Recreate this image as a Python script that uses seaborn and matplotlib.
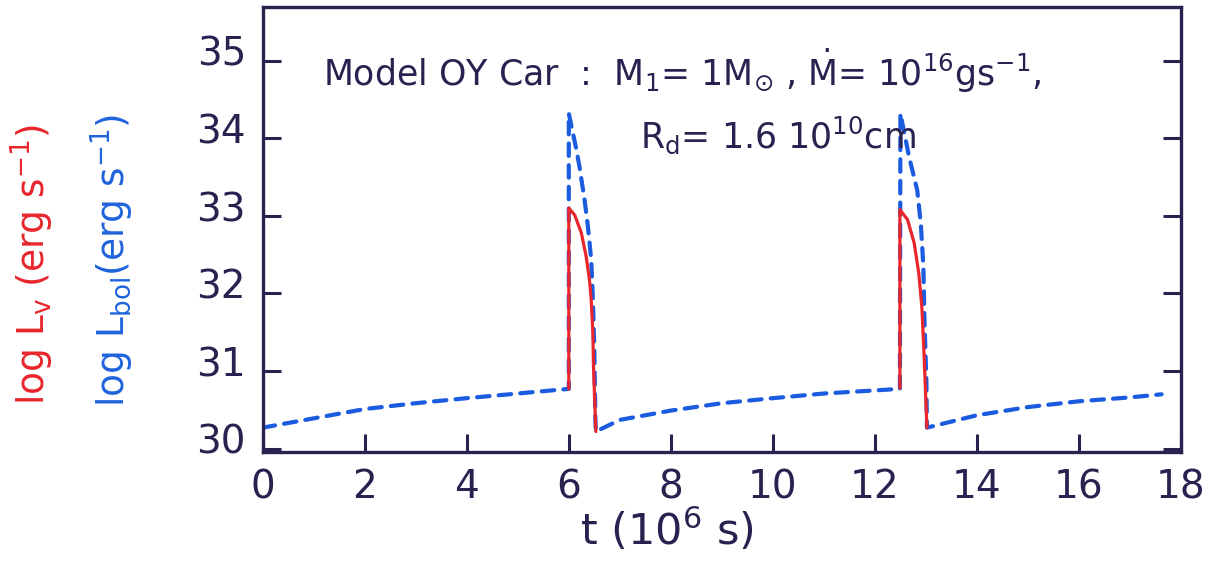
import matplotlib
matplotlib.use("Agg")
import matplotlib.pyplot as plt
import matplotlib.transforms as mtransforms
import numpy as np
import pandas as pd
import seaborn as sns

# ---------------- data ----------------
# bolometric luminosity (blue dashed), one continuous path
t_bol = [0, 1, 2, 3, 4, 5, 6,
         6.0, 6.15, 6.21, 6.31, 6.375, 6.44, 6.472, 6.50, 6.52, 6.53,
         7, 8, 9, 10, 11, 12, 12.49,
         12.50, 12.67, 12.83, 12.90, 12.95, 12.97, 13.01, 13.02,
         14, 15, 16, 17, 17.62]
logL_bol = [30.27, 30.39, 30.51, 30.585, 30.65, 30.71, 30.77,
            34.32, 33.85, 33.63, 33.20, 32.86, 32.43, 31.92, 31.27, 30.41, 30.22,
            30.37, 30.49, 30.585, 30.65, 30.71, 30.75, 30.77,
            34.32, 33.76, 33.33, 32.90, 32.35, 31.70, 30.84, 30.27,
            30.43, 30.535, 30.61, 30.66, 30.70]

# visual luminosity (red solid), outburst 1 and outburst 2
t_v1 = [6.00, 6.00, 6.116, 6.246, 6.342, 6.406, 6.439, 6.472, 6.484, 6.53]
logL_v1 = [30.77, 33.10, 33.01, 32.78, 32.47, 32.17, 31.92, 31.49, 31.06, 30.22]
t_v2 = [12.49, 12.49, 12.64, 12.77, 12.86, 12.92, 12.96, 13.02]
logL_v2 = [30.78, 33.08, 32.95, 32.65, 32.26, 31.83, 31.27, 30.27]

x_ticks = [0, 2, 4, 6, 8, 10, 12, 14, 16, 18]
y_ticks = [30, 31, 32, 33, 34, 35]

# ---------------- style ----------------
sns.set_style("white")
plt.rcParams["font.family"] = ["DejaVu Sans"]
plt.rcParams["mathtext.fontset"] = "dejavusans"

INK = "#2b2150"
RED = "#e8262c"
BLUE = "#1a5be0"
BLUE_TXT = "#1f63dc"

W, H = 1208, 567
fig = plt.figure(figsize=(W / 100, H / 100), dpi=100)
ax = fig.add_axes([262.7 / W, 1 - 451.7 / H, (1181 - 262.7) / W, (451.7 - 6.7) / H])

df_bol = pd.DataFrame({"t": t_bol, "L": logL_bol, "seg": 0})
df_v = pd.DataFrame({
    "t": t_v1 + t_v2,
    "L": logL_v1 + logL_v2,
    "seg": [1] * len(t_v1) + [2] * len(t_v2),
})

sns.lineplot(data=df_bol, x="t", y="L", units="seg", estimator=None, sort=False,
             color=BLUE, linewidth=3.0, ax=ax, legend=False)
line_b = ax.lines[-1]
line_b.set_dashes((3.0, 2.2))
line_b.set_dash_capstyle("round")
line_b.set_solid_joinstyle("round")

sns.lineplot(data=df_v, x="t", y="L", units="seg", estimator=None, sort=False,
             color=RED, linewidth=2.3, ax=ax, legend=False)
for ln in ax.lines[1:]:
    ln.set_solid_joinstyle("round")

ax.set_xlim(0, 18)
ax.set_ylim(29.96, 35.696)
ax.set_xticks(x_ticks)
ax.set_yticks(y_ticks)
ax.set_xticklabels([str(v) for v in x_ticks])
ax.set_yticklabels([str(v) for v in y_ticks])

for s in ax.spines.values():
    s.set_color(INK)
    s.set_linewidth(2.4)

ax.tick_params(axis="x", direction="in", length=13, width=2.2, color=INK,
               labelcolor=INK, labelsize=28, pad=12, top=False, bottom=True)
ax.tick_params(axis="y", direction="in", length=13, width=2.2, color=INK,
               labelcolor=INK, labelsize=28, pad=12, left=True, right=True)

# hand-drawn y tick labels sit slightly above their ticks
off = mtransforms.ScaledTranslation(0, 7 / 72, fig.dpi_scale_trans)
for lab in ax.get_yticklabels():
    lab.set_transform(lab.get_transform() + off)

ax.set_xlabel("")
ax.set_ylabel("")

# x axis label
fig.text(667 / W, 1 - 530 / H, r"t (10$^{\mathregular{6}}$ s)", color=INK,
         fontsize=31, ha="center", va="center")

# y axis labels (two, coloured)
fig.text(32 / W, 1 - 265 / H, r"log L$_{\mathregular{v}}$ (erg s$^{\mathregular{-1}}$)",
         color=RED, fontsize=27, rotation=90, ha="center", va="center")
fig.text(112 / W, 1 - 260 / H, r"log L$_{\mathregular{bol}}$(erg s$^{\mathregular{-1}}$)",
         color=BLUE_TXT, fontsize=27, rotation=90, ha="center", va="center")

# model annotation
fig.text(323 / W, 1 - 86 / H,
         r"Model OY Car  :  M$_{\mathregular{1}}$= 1M$_{\odot}$ , $\dot{\mathregular{M}}$= 10$^{\mathregular{16}}$gs$^{\mathregular{-1}}$,",
         color=INK, fontsize=25, ha="left", va="baseline")
fig.text(640 / W, 1 - 148 / H,
         r"R$_{\mathregular{d}}$= 1.6 10$^{\mathregular{10}}$cm",
         color=INK, fontsize=25, ha="left", va="baseline")

fig.savefig("out.png", dpi=100)
